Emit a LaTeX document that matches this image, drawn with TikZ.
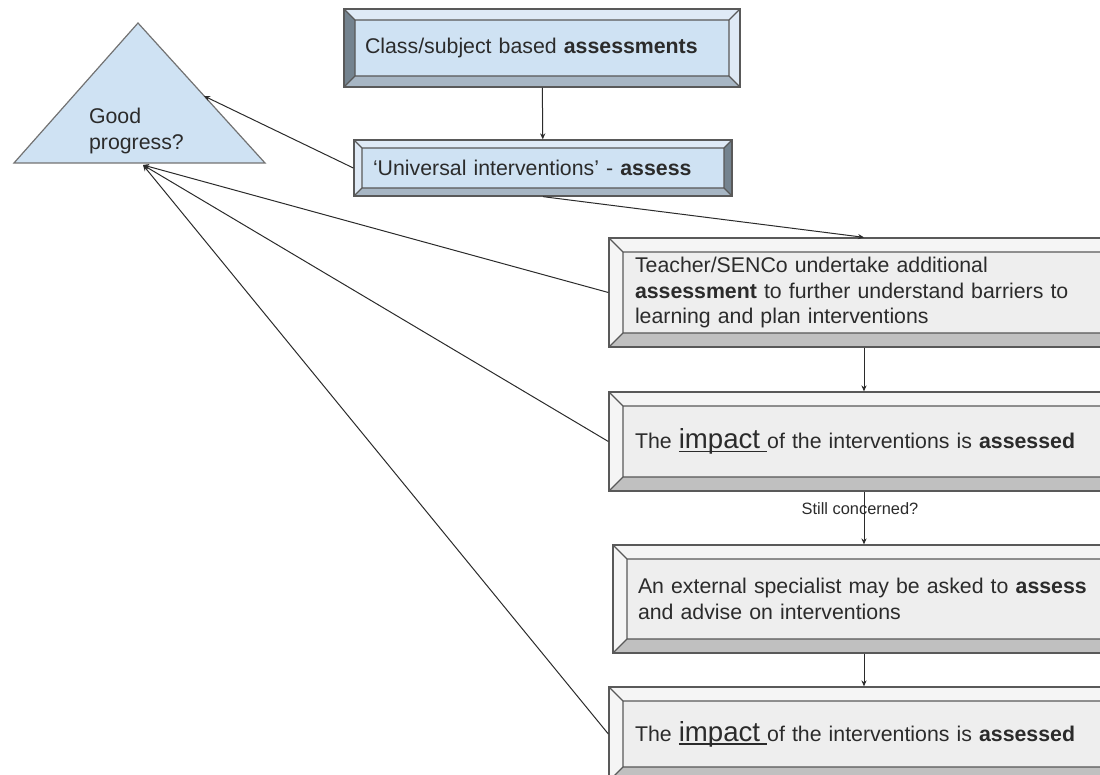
\documentclass[tikz,border=0pt]{standalone}
\usepackage{fontspec}
\setmainfont{Liberation Sans}
\usepackage{xcolor}
\definecolor{bluefill}{HTML}{CFE2F3}
\definecolor{bluelight}{HTML}{DFEAF6}
\definecolor{bluemid}{HTML}{A7B6C4}
\definecolor{bluedark}{HTML}{74838F}
\definecolor{greyfill}{HTML}{EEEEEE}
\definecolor{greylight}{HTML}{F5F5F5}
\definecolor{greymid}{HTML}{C0C0C0}
\definecolor{greydark}{HTML}{9C9C9C}
\definecolor{edge}{HTML}{595959}
\definecolor{ink}{HTML}{2B2B2B}
\usetikzlibrary{calc,arrows.meta}

\newcommand{\boxfont}{\fontsize{10.65pt}{12.7pt}\selectfont}
\newcommand{\notefont}{\fontsize{8.2pt}{9pt}\selectfont}
\newcommand{\ulimpact}{\setbox0=\hbox{\fontsize{13.8pt}{14pt}\selectfont impact\ }\rlap{\rule[-1.7pt]{\wd0}{0.7pt}}\box0}

\tikzset{bevel/.style n args={5}{path picture={
  \coordinate (bnw) at (path picture bounding box.north west);
  \coordinate (bse) at (path picture bounding box.south east);
  \coordinate (bne) at (bse |- bnw);
  \coordinate (bsw) at (bnw |- bse);
  \coordinate (inw) at ($(bnw)+(#1,-#1)$);
  \coordinate (ine) at ($(bne)+(-#1,-#1)$);
  \coordinate (isw) at ($(bsw)+(#1,#1)$);
  \coordinate (ise) at ($(bse)+(-#1,#1)$);
  \fill[#2] (bnw) -- (bsw) -- (isw) -- (inw) -- cycle;
  \fill[#3] (bnw) -- (bne) -- (ine) -- (inw) -- cycle;
  \fill[#4] (bne) -- (bse) -- (ise) -- (ine) -- cycle;
  \fill[#5] (bsw) -- (bse) -- (ise) -- (isw) -- cycle;
  \draw[edge, line width=0.6pt] (inw) rectangle (ise) (bnw) -- (inw) (bne) -- (ine) (bsw) -- (isw) (bse) -- (ise);
}}}
\tikzstyle{bluebox} = [draw=edge, line width=0.65pt, fill=bluefill, text=ink, align=left, font=\boxfont]
\tikzstyle{greybox} = [draw=edge, line width=0.65pt, fill=greyfill, text=ink, align=left, font=\boxfont,
  bevel={7pt}{greylight}{greylight}{greydark}{greymid}, minimum width=255pt, inner xsep=13pt, text width=229pt]
\tikzstyle{conn} = [draw=ink, line width=0.5pt, -{Stealth[length=3pt,width=2.6pt]}]

\begin{document}
\begin{tikzpicture}[x=0.5pt, y=-0.5pt]
\useasboundingbox (0,0) rectangle (1100,775);
\clip (0,0) rectangle (1100,775);

\coordinate (gpL) at (14,163);
\coordinate (gpR) at (265,163);
\coordinate (gpT) at (138,23);
\coordinate (gpside) at (204,96);
\coordinate (gpbase) at (143,165);
\filldraw[fill=bluefill, draw=edge!85, line width=0.6pt] (gpL) -- (gpR) -- (gpT) -- cycle;
\node (progress) [anchor=west, align=left, font=\boxfont, text=ink] at (82,131) {Good\\progress?};

\node (classbox) [bluebox, bevel={5.5pt}{bluedark}{bluelight}{bluelight}{bluemid}, minimum width=198pt, minimum height=39pt, inner xsep=10.5pt, text width=177pt] at (542,48) {Class/subject based \textbf{assessments}};
\node (univbox) [bluebox, bevel={4pt}{bluelight}{bluelight}{bluedark}{bluemid}, minimum width=189pt, minimum height=28pt, inner xsep=9.5pt, text width=170pt] at (543,168) {`Universal interventions' - \textbf{assess}};

\node (teacher) [greybox, minimum height=54.5pt] at (864,292.5) {Teacher/SENCo undertake additional\\\textbf{assessment} to further understand barriers to\\learning and plan interventions};
\node (impactA) [greybox, minimum height=49.5pt] at (864,441.5) {The \ulimpact of the interventions is \textbf{assessed}};
\node (external) [greybox, minimum width=251pt, minimum height=54pt, inner xsep=12.5pt, text width=226pt] at (864,599) {An external specialist may be asked to \textbf{assess}\\and advise on interventions};
\node (impactB) [greybox, minimum height=47pt] at (864,734) {The \ulimpact of the interventions is \textbf{assessed}};

\draw[conn] (classbox) -- (univbox);
\draw[conn] (univbox.west) -- (gpside);
\draw[conn] (univbox.south) -- (teacher.north);
\draw[conn] (teacher) -- (impactA);
\draw[conn] (impactA) -- (external) node[pos=0.32, xshift=-2pt, font=\notefont, text=ink] (concern) {Still concerned?};
\draw[conn] (external) -- (impactB);

\draw[conn] (teacher.west) -- (gpbase);
\draw[conn] (impactA.west) -- (gpbase);
\draw[conn] (impactB.west) -- (gpbase);

\end{tikzpicture}
\end{document}
